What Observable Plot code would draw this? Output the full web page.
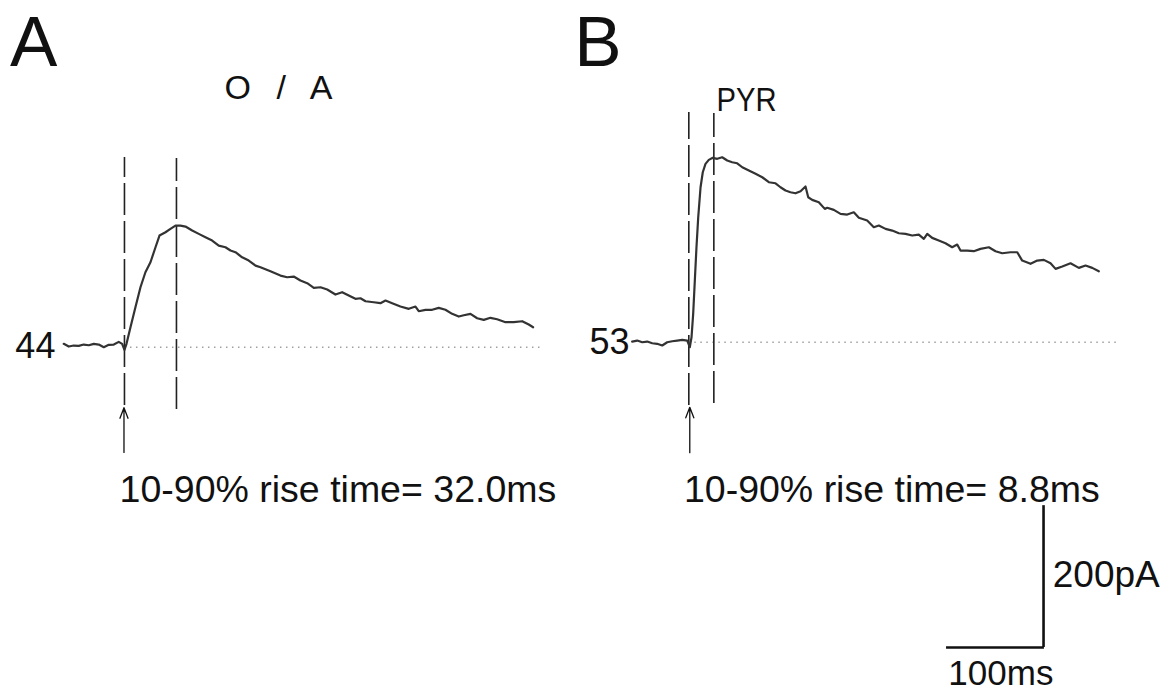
<!DOCTYPE html>
<html>
<head>
<meta charset="utf-8">
<script src="https://cdn.jsdelivr.net/npm/d3@7"></script>
<script src="https://cdn.jsdelivr.net/npm/@observablehq/plot@0.6"></script>
<style>
  html, body { margin: 0; padding: 0; background: #fff; }
  #chart svg { display: block; }
</style>
</head>
<body>
<div id="chart"></div>
<script>
// ---------------- DATA ----------------
// Panel identifiers, titles, cell labels and measured rise times
const panelIds = ["A", "B"];
const panelTitles = ["O / A", "PYR"];
const cellLabels = ["44", "53"];
const riseTimesMs = [32.0, 8.8];
// time (ms) of the second dashed marker (peak) relative to stimulus
const peakMarkerMs = [53.6, 25.8];

// Panel A trace: time (ms, stimulus = 0) and current (pA, baseline = 0)
const timeA = [-62.6,-57.4,-52.3,-47.1,-42.0,-36.8,-31.6,-26.5,-21.3,-16.2,-11.0,-5.9,-2.4,0,2.1,6.2,11.3,16.5,21.6,26.8,32.0,36.1,42.3,47.4,52.6,57.7,62.9,69.8,76.6,83.5,90.4,97.2,104.1,109.3,114.4,121.3,128.1,135.1,140.2,150.5,160.8,167.7,174.5,181.4,188.4,195.2,202.1,209.0,217.5,224.4,231.2,238.1,243.3,248.5,257.0,263.9,269.1,276.0,284.5,293.1,300.0,303.4,310.3,317.2,324.0,330.9,337.8,344.6,349.8,356.7,363.6,370.4,377.3,384.2,392.8,401.3,410.0,416.8,421.3];
const currentA = [3.1,-0.7,0.7,0.3,2.1,1.1,3.1,2.1,-1.7,1.7,2.1,5.9,3.1,-5.4,3.1,26.5,54.7,82.9,104.1,118.2,139.3,155.8,160.5,165.3,169.9,169.9,168.5,162.9,158.2,153.4,148.8,141.7,139.3,134.7,132.3,125.2,120.5,113.4,111.1,105.5,99.4,97.0,98.0,92.4,88.6,82.1,82.9,79.7,72.6,75.9,71.2,66.6,67.4,63.2,61.8,60.4,64.2,60.4,55.7,52.5,55.7,49.1,51.1,51.1,53.9,51.1,45.4,41.6,43.4,45.4,39.2,36.9,39.8,37.8,33.6,33.6,35.0,30.3,26.5];

// Panel B trace
const timeB = [-58.4,-53.2,-48.0,-42.9,-37.7,-32.6,-27.4,-22.3,-17.1,-12.0,-6.8,-1.6,1.0,2.8,4.5,6.2,7.9,9.7,12.1,14.4,17.2,20.6,24.7,29.3,34.4,39.6,44.7,49.9,55.1,61.9,68.8,75.7,82.5,89.4,94.5,99.7,104.8,110.0,115.2,120.3,123.1,127.2,134.0,140.2,142.7,149.5,156.4,163.3,170.1,175.3,183.9,190.7,195.9,202.8,209.7,216.5,223.4,230.3,237.1,242.3,245.8,250.9,257.7,264.6,271.5,276.7,280.1,287.0,293.8,300.7,309.3,316.2,323.1,331.6,338.6,343.7,352.3,359.2,366.0,372.9,378.1,385.0,393.5,402.1,409.0,415.9,422.7];
const currentB = [0.7,2.1,-0.3,0.7,-1.7,-2.5,-4.9,-0.3,1.1,2.1,3.1,2.1,-7.3,6.8,39.8,86.7,133.7,176.0,218.3,239.5,251.3,256.9,259.8,258.4,260.6,256.0,253.6,252.1,246.5,241.9,237.2,232.4,225.4,223.9,218.3,213.7,211.3,209.8,212.7,219.3,204.2,200.5,197.2,187.8,189.3,186.4,180.8,179.8,183.0,175.2,171.3,161.9,164.3,159.6,157.2,153.4,152.6,150.2,151.6,145.5,152.6,146.9,143.1,139.3,133.7,137.5,129.0,129.0,128.1,131.4,133.7,128.1,125.2,126.6,126.6,114.9,110.3,114.9,115.9,111.1,103.2,106.5,111.1,104.6,107.9,104.6,99.8];

// Scale bar values
const scaleBarMs = 100;
const scaleBarPA = 200;

// ---------------- LAYOUT (positions in ms / pA of the figure) ----------------
const W = 1176, H = 693;
const layout = {
  A: {t0: 127.8, v0: 0,    baseV: -1.7, baseEnd: 429, onsetLine: [-84, 266], peakLine: [-89.5, 264.4], arrowT: -0.5, arrow: [-150, -87], titleT: 158.8, titleV: 363.2, titleLen: 108, titleAdjust: "spacing", cellT: -71.2},
  B: {t0: 709.6, v0: 5.64, baseV: -0.3, baseEnd: 445, onsetLine: [-89.5, 323.6], peakLine: [-86.7, 322.2], arrowT: 1.0, arrow: [-156, -92], titleT: 59.5, titleV: 346.3, titleLen: 60, titleAdjust: "spacingAndGlyphs", cellT: -61.1}
};
const letterT = -118, letterV = 426.9;
const riseLabelT = -5, riseLabelV = -203.7;
const scaleCorner = {t: 1075.3, v: -425.1};

const X = (p, t) => t + layout[p].t0;
const Y = (p, v) => v + layout[p].v0;

const traces = [
  ...timeA.map((t, i) => ({panel: "A", t, v: currentA[i]})),
  ...timeB.map((t, i) => ({panel: "B", t, v: currentB[i]}))
];

const panels = panelIds.map((p, i) => ({
  panel: p, title: panelTitles[i], cell: cellLabels[i],
  rise: `10-90% rise time= ${riseTimesMs[i].toFixed(1)}ms`,
  peakT: peakMarkerMs[i]
}));

const markers = panels.flatMap(d => [
  {panel: d.panel, t: 0, y1: layout[d.panel].onsetLine[0], y2: layout[d.panel].onsetLine[1]},
  {panel: d.panel, t: d.peakT, y1: layout[d.panel].peakLine[0], y2: layout[d.panel].peakLine[1]}
]);

const font = "'Liberation Sans', Arial, Helvetica, sans-serif";

const plot = Plot.plot({
  width: W,
  height: H,
  margin: 0,
  x: {domain: [0, W / 0.97], axis: null},
  y: {domain: [-490, 487.3], axis: null},
  style: {fontFamily: font, background: "#fff", color: "#111"},
  marks: [
    // dotted baselines
    Plot.ruleY(panels, {
      y: d => Y(d.panel, layout[d.panel].baseV),
      x1: d => X(d.panel, 0),
      x2: d => X(d.panel, layout[d.panel].baseEnd),
      stroke: "#a0a0a0", strokeWidth: 1.3, strokeDasharray: "1.5,4.5"
    }),
    // dashed markers (onset / peak)
    Plot.ruleX(markers, {
      x: d => X(d.panel, d.t),
      y1: d => Y(d.panel, d.y1),
      y2: d => Y(d.panel, d.y2),
      stroke: "#222", strokeWidth: 1.6, strokeDasharray: "32,6"
    }),
    // stimulus arrows
    Plot.arrow(panels, {
      x1: d => X(d.panel, layout[d.panel].arrowT),
      x2: d => X(d.panel, layout[d.panel].arrowT),
      y1: d => Y(d.panel, layout[d.panel].arrow[0]),
      y2: d => Y(d.panel, layout[d.panel].arrow[1]),
      stroke: "#111", strokeWidth: 1.3, headLength: 13, headAngle: 42
    }),
    // current traces
    Plot.line(traces, {
      x: d => X(d.panel, d.t),
      y: d => Y(d.panel, d.v),
      z: "panel",
      stroke: "#333", strokeWidth: 2.2, strokeLinejoin: "round"
    }),
    // panel letters
    Plot.text(panels, {
      x: d => X(d.panel, letterT), y: () => letterV, text: "panel",
      textAnchor: "start", fontSize: 71, fill: "#111"
    }),
    // panel titles
    Plot.text(panels, {
      x: d => X(d.panel, layout[d.panel].titleT), y: d => layout[d.panel].titleV, text: "title",
      textAnchor: "middle", fontSize: 34, fill: "#111"
    }),
    // cell labels at baseline
    Plot.text(panels, {
      x: d => X(d.panel, layout[d.panel].cellT), y: d => Y(d.panel, 0), text: "cell",
      textAnchor: "end", fontSize: 36, fill: "#111"
    }),
    // rise time labels
    Plot.text(panels, {
      x: d => X(d.panel, riseLabelT), y: () => riseLabelV, text: "rise",
      textAnchor: "start", fontSize: 37.5, fill: "#111"
    }),
    // scale bar
    Plot.ruleY([scaleCorner], {
      y: "v", x1: d => d.t - scaleBarMs, x2: d => d.t + 0.9,
      stroke: "#111", strokeWidth: 2.6
    }),
    Plot.ruleX([scaleCorner], {
      x: "t", y1: "v", y2: d => d.v + scaleBarPA,
      stroke: "#111", strokeWidth: 2.6
    }),
    Plot.text([scaleCorner], {
      x: d => d.t + 9.5, y: d => d.v + scaleBarPA / 2 + 1.5, text: () => `${scaleBarPA}pA`,
      textAnchor: "start", fontSize: 37, fill: "#111"
    }),
    Plot.text([scaleCorner], {
      x: d => d.t - scaleBarMs / 2 + 6, y: d => d.v - 37.8, text: () => `${scaleBarMs}ms`,
      textAnchor: "middle", fontSize: 35, fill: "#111"
    })
  ]
});

// fit the panel titles to the widths they take in the reference
const titleFit = new Map(panels.map(d => [d.title, layout[d.panel]]));
d3.select(plot).selectAll("text").each(function () {
  const L = titleFit.get(this.textContent);
  if (L) d3.select(this).attr("textLength", L.titleLen).attr("lengthAdjust", L.titleAdjust);
});

document.getElementById("chart").append(plot);
</script>
</body>
</html>
